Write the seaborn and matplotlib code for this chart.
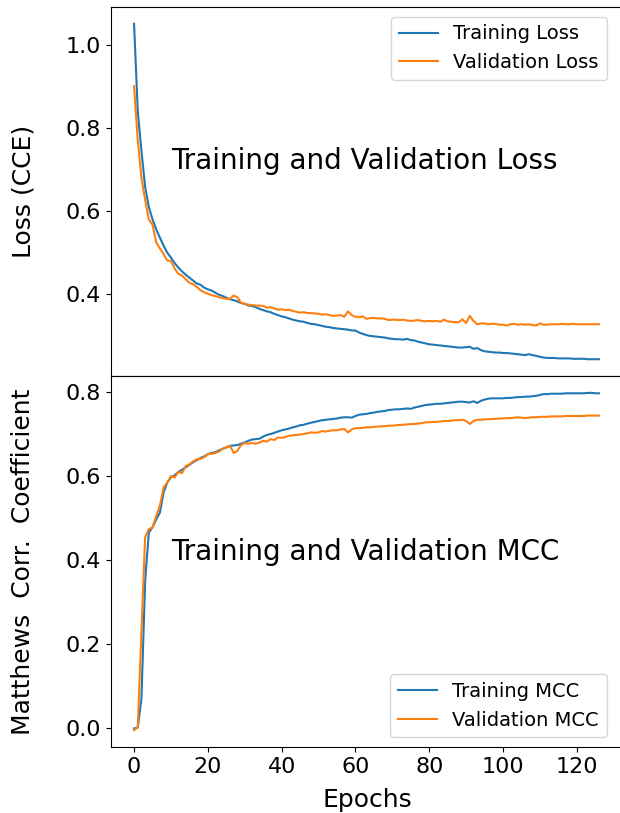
import numpy as np
import pandas as pd
import matplotlib
matplotlib.use("Agg")
import matplotlib.pyplot as plt
import seaborn as sns

train_loss = [
    1.05, 0.84, 0.745, 0.658, 0.61, 0.58, 0.556, 0.536, 0.517, 0.50,
    0.488, 0.475, 0.464, 0.455, 0.447, 0.44, 0.433, 0.426, 0.423, 0.416,
    0.412, 0.409, 0.404, 0.399, 0.396, 0.392, 0.388, 0.386, 0.383, 0.379,
    0.377, 0.373, 0.372, 0.369, 0.365, 0.362, 0.359, 0.357, 0.353, 0.350,
    0.347, 0.345, 0.342, 0.339, 0.337, 0.335, 0.334, 0.331, 0.329, 0.328,
    0.326, 0.324, 0.322, 0.321, 0.319, 0.318, 0.317, 0.316, 0.315, 0.313,
    0.313, 0.308, 0.305, 0.302, 0.300, 0.299, 0.298, 0.297, 0.296, 0.294,
    0.293, 0.292, 0.292, 0.291, 0.293, 0.290, 0.289, 0.286, 0.284, 0.282,
    0.280, 0.279, 0.278, 0.277, 0.276, 0.275, 0.274, 0.273, 0.272, 0.272,
    0.273, 0.274, 0.269, 0.271, 0.266, 0.263, 0.262, 0.261, 0.260, 0.260,
    0.259, 0.259, 0.258, 0.257, 0.256, 0.255, 0.254, 0.256, 0.254, 0.252,
    0.250, 0.248, 0.247, 0.247, 0.247, 0.246, 0.246, 0.246, 0.246, 0.245,
    0.245, 0.245, 0.245, 0.244, 0.244, 0.244, 0.244,
]

val_loss = [
    0.90, 0.77, 0.68, 0.627, 0.58, 0.567, 0.525, 0.51, 0.497, 0.481,
    0.48, 0.462, 0.449, 0.445, 0.436, 0.428, 0.424, 0.418, 0.41, 0.405,
    0.401, 0.398, 0.396, 0.393, 0.391, 0.389, 0.389, 0.397, 0.393, 0.380,
    0.377, 0.375, 0.374, 0.373, 0.373, 0.372, 0.368, 0.369, 0.366, 0.363,
    0.364, 0.362, 0.363, 0.360, 0.358, 0.356, 0.357, 0.355, 0.355, 0.354,
    0.353, 0.351, 0.352, 0.350, 0.348, 0.349, 0.350, 0.346, 0.359, 0.350,
    0.346, 0.345, 0.347, 0.341, 0.343, 0.343, 0.342, 0.342, 0.341, 0.338,
    0.339, 0.339, 0.338, 0.339, 0.337, 0.336, 0.337, 0.338, 0.336, 0.335,
    0.336, 0.335, 0.336, 0.334, 0.339, 0.335, 0.334, 0.333, 0.333, 0.340,
    0.331, 0.348, 0.336, 0.328, 0.330, 0.330, 0.328, 0.329, 0.329, 0.327,
    0.327, 0.325, 0.328, 0.329, 0.327, 0.328, 0.327, 0.328, 0.326, 0.325,
    0.330, 0.327, 0.327, 0.328, 0.328, 0.328, 0.329, 0.328, 0.328, 0.329,
    0.328, 0.328, 0.328, 0.328, 0.328, 0.328, 0.328,
]

train_mcc = [
    0.0, 0.002, 0.07, 0.35, 0.466, 0.478, 0.497, 0.513, 0.561, 0.585,
    0.597, 0.602, 0.61, 0.615, 0.621, 0.627, 0.633, 0.638, 0.643, 0.647,
    0.652, 0.655, 0.657, 0.661, 0.665, 0.668, 0.672, 0.673, 0.674, 0.677,
    0.68, 0.684, 0.687, 0.688, 0.689, 0.694, 0.698, 0.700, 0.703, 0.706,
    0.709, 0.711, 0.713, 0.716, 0.718, 0.721, 0.722, 0.725, 0.727, 0.729,
    0.731, 0.733, 0.734, 0.735, 0.736, 0.737, 0.739, 0.740, 0.740, 0.739,
    0.743, 0.746, 0.747, 0.748, 0.750, 0.751, 0.753, 0.754, 0.755, 0.757,
    0.758, 0.759, 0.759, 0.760, 0.761, 0.760, 0.763, 0.765, 0.767, 0.769,
    0.770, 0.771, 0.772, 0.772, 0.773, 0.774, 0.775, 0.776, 0.777, 0.777,
    0.776, 0.775, 0.778, 0.774, 0.779, 0.782, 0.784, 0.785, 0.785, 0.785,
    0.785, 0.786, 0.786, 0.787, 0.788, 0.788, 0.789, 0.789, 0.790, 0.791,
    0.793, 0.795, 0.795, 0.796, 0.796, 0.796, 0.796, 0.797, 0.797, 0.797,
    0.797, 0.797, 0.797, 0.798, 0.798, 0.797, 0.797,
]

val_mcc = [
    -0.004, 0.003, 0.23, 0.455, 0.474, 0.478, 0.505, 0.53, 0.573, 0.585,
    0.600, 0.597, 0.610, 0.607, 0.624, 0.628, 0.635, 0.640, 0.641, 0.645,
    0.652, 0.653, 0.655, 0.658, 0.665, 0.669, 0.672, 0.655, 0.660, 0.674,
    0.679, 0.677, 0.679, 0.677, 0.680, 0.684, 0.682, 0.688, 0.686, 0.692,
    0.691, 0.693, 0.696, 0.697, 0.698, 0.699, 0.700, 0.702, 0.704, 0.703,
    0.704, 0.707, 0.706, 0.708, 0.709, 0.709, 0.711, 0.712, 0.704, 0.711,
    0.714, 0.714, 0.715, 0.716, 0.716, 0.717, 0.718, 0.718, 0.719, 0.720,
    0.720, 0.721, 0.722, 0.722, 0.723, 0.724, 0.724, 0.725, 0.726, 0.728,
    0.728, 0.729, 0.729, 0.730, 0.731, 0.731, 0.732, 0.733, 0.733, 0.734,
    0.731, 0.724, 0.731, 0.734, 0.734, 0.735, 0.735, 0.736, 0.736, 0.737,
    0.737, 0.738, 0.738, 0.739, 0.740, 0.739, 0.738, 0.739, 0.740, 0.740,
    0.741, 0.741, 0.741, 0.742, 0.742, 0.742, 0.742, 0.743, 0.743, 0.743,
    0.743, 0.743, 0.743, 0.744, 0.744, 0.744, 0.744,
]

epochs = list(range(len(train_loss)))
loss_labels = ["Training Loss", "Validation Loss"]
mcc_labels = ["Training MCC", "Validation MCC"]

loss_df = pd.DataFrame({
    "Epoch": epochs * 2,
    "Value": train_loss + val_loss,
    "Series": [loss_labels[0]] * len(epochs) + [loss_labels[1]] * len(epochs),
})
mcc_df = pd.DataFrame({
    "Epoch": epochs * 2,
    "Value": train_mcc + val_mcc,
    "Series": [mcc_labels[0]] * len(epochs) + [mcc_labels[1]] * len(epochs),
})

palette = ["#1f77b4", "#ff7f0e"]

fig = plt.figure(figsize=(6.2, 8.13), dpi=100)
left = 111 / 620
width = 513 / 620
ax1 = fig.add_axes([left, 1 - 376 / 813, width, 369 / 813])
ax2 = fig.add_axes([left, 1 - 747 / 813, width, 371 / 813], sharex=ax1)

sns.lineplot(data=loss_df, x="Epoch", y="Value", hue="Series", palette=palette,
             ax=ax1, linewidth=1.5)
sns.lineplot(data=mcc_df, x="Epoch", y="Value", hue="Series", palette=palette,
             ax=ax2, linewidth=1.5)

ax1.set_xlim(-6.25, 132.8)

for ax in (ax1, ax2):
    ax.spines["right"].set_visible(False)

ax1.set_xlabel("")
ax1.set_ylabel("Loss (CCE)", fontsize=18, labelpad=22)
ax2.set_xlabel("Epochs", fontsize=18, labelpad=8)
ax2.set_ylabel("Matthews  Corr.  Coefficient", fontsize=18, labelpad=22)

ax1.tick_params(axis="x", labelbottom=False)
ax1.tick_params(axis="y", labelsize=16)
ax2.tick_params(axis="both", labelsize=16)
ax1.set_yticks([0.4, 0.6, 0.8, 1.0])
ax2.set_yticks([0.0, 0.2, 0.4, 0.6, 0.8])
ax2.set_xticks([0, 20, 40, 60, 80, 100, 120])

ax1.text(10, 0.7, "Training and Validation Loss", fontsize=20)
ax2.text(10, 0.4, "Training and Validation MCC", fontsize=20)

ax1.legend(loc="upper right", fontsize=14, bbox_to_anchor=(0.985, 1.0))
ax2.legend(loc="lower right", fontsize=14, bbox_to_anchor=(0.985, 0.0))

fig.savefig("out.png", dpi=100)
